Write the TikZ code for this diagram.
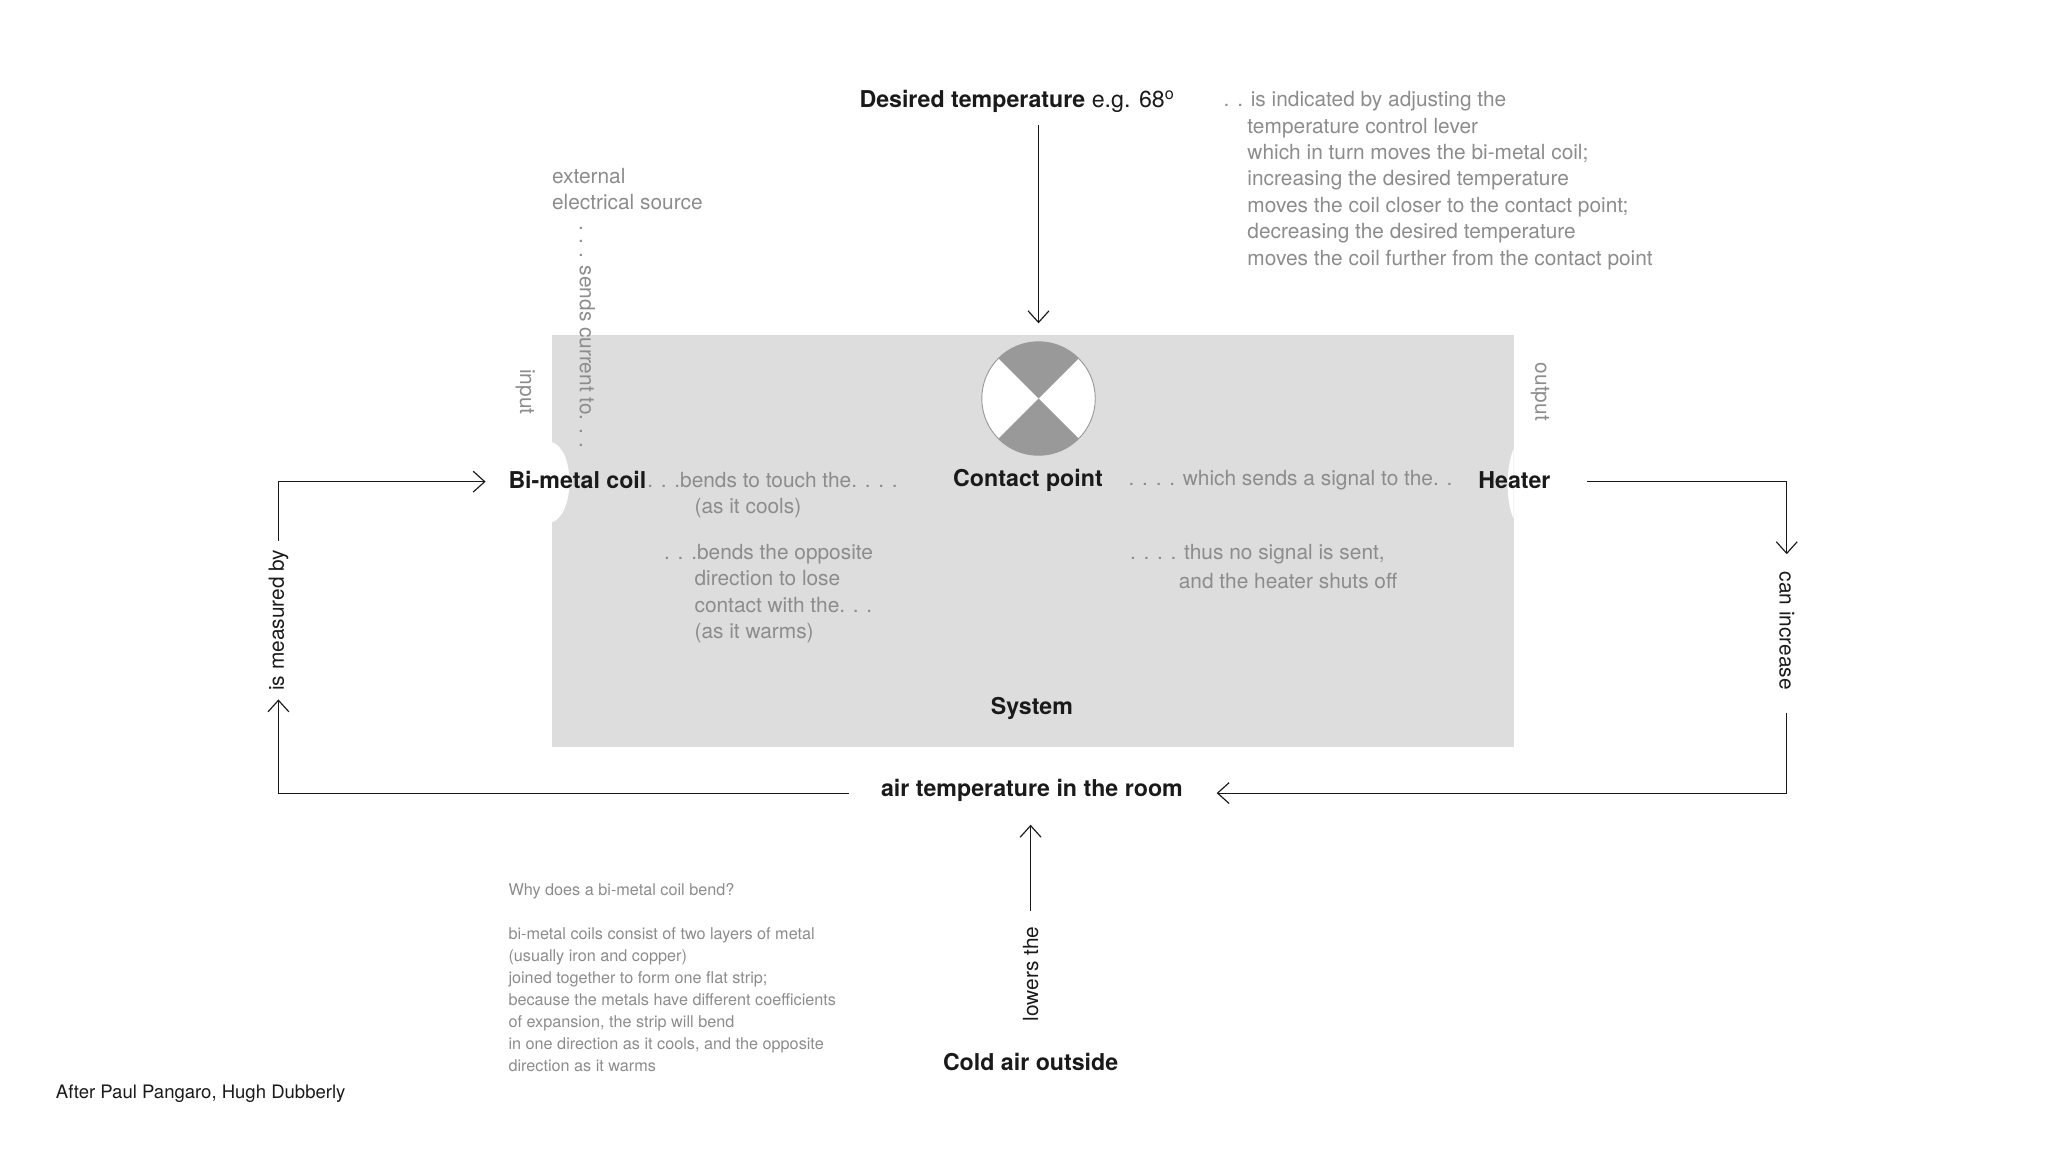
\documentclass[tikz,border=0pt]{standalone}
\usepackage{fontspec}
\setmainfont{TeX Gyre Heros}
\usetikzlibrary{arrows.meta}
\definecolor{tg}{HTML}{8C8C8C}
\definecolor{tb}{HTML}{1A1A1A}
\definecolor{sysg}{HTML}{DDDDDE}
\definecolor{qg}{HTML}{999999}
\tikzset{
  bold/.style={font=\fontsize{10}{12}\selectfont\bfseries, text=tb, inner sep=0pt},
  grey/.style={font=\fontsize{9}{11.4}\selectfont, text=tg, inner sep=0pt, align=left},
  blk/.style={font=\fontsize{9}{11.4}\selectfont, text=tb, inner sep=0pt},
  small/.style={font=\fontsize{7}{9.5}\selectfont, text=tg, inner sep=0pt, align=left},
  conn/.style={draw=tb, line width=0.5pt},
  arr/.style={conn, -{Straight Barb[length=5pt,width=9pt]}}
}
\begin{document}
\begin{tikzpicture}[x=0.02cm,y=-0.02cm]
\useasboundingbox (0,0) rectangle (1552,873);
% system box
\fill[sysg] (418,254) rectangle (1147,566);
\fill[white] (418,335) .. controls (436,340) and (436,390) .. (418,396) -- cycle;
\fill[white] (1147,340) .. controls (1141,355) and (1141,380) .. (1147,393) -- cycle;
% contact circle
\fill[white] (787,302) circle (43);
\fill[qg] (787,302) -- ++(-30.4,-30.4) arc (225:315:43) -- cycle;
\fill[qg] (787,302) -- ++(30.4,30.4) arc (45:135:43) -- cycle;
\draw[qg, line width=0.4pt] (787,302) circle (43);
\node (sys) [bold] at (782,537) {System};
% top
\node (des) [bold, anchor=west] at (651,77) {Desired temperature \mdseries e.g. 68\textsuperscript{o}};
\node (d1) [grey, anchor=west] at (927,77) {. . is indicated by adjusting the};
\node (d2) [grey, anchor=north west] at (945,89) {temperature control lever\\which in turn moves the bi-metal coil;\\increasing the desired temperature\\moves the coil closer to the contact point;\\decreasing the desired temperature\\moves the coil further from the contact point};
\coordinate (dtop) at (787,95);
\coordinate (dbot) at (787,245);
\draw[arr] (dtop) -- (dbot);
\node (ext) [grey, anchor=north west] at (418,127) {external\\electrical source};
\node (inp) [grey, rotate=-90] at (398,297) {input};
\node (sends) [grey, rotate=-90] at (445,255) {. . . sends current to. . .};
\node (outp) [grey, rotate=-90] at (1167,297) {output};
% row
\node (bmc) [bold, anchor=west] at (385,364) {Bi-metal coil};
\node (b1) [grey, anchor=west] at (bmc.east) {. . .bends to touch the. . . .};
\node (b2) [grey, anchor=west] at (526,385) {(as it cools)};
\node (cp) [bold, anchor=west] at (722,364) {Contact point};
\node (c1) [grey, anchor=west] at (855,364) {. . . . which sends a signal to the. .};
\node (ht) [bold, anchor=west] at (1120,364) {Heater};
\node (o1) [grey, anchor=west] at (503,420) {. . .bends the opposite};
\node (o2) [grey, anchor=north west] at (526,432) {direction to lose\\contact with the. . .\\(as it warms)};
\node (n1) [grey, anchor=west] at (856,420) {. . . . thus no signal is sent,};
\node (n2) [grey, anchor=west] at (893,440) {and the heater shuts off};
% loop
\node (air) [bold] at (782,599) {air temperature in the room};
\node (ci) [blk, rotate=-90] at (1354,478) {can increase};
\node (im) [blk, rotate=90] at (211,470) {is measured by};
\coordinate (hr) at (1203,365);
\coordinate (ri1) at (1354,365);
\coordinate (ri2) at (1354,420);
\coordinate (ri3) at (1354,540);
\coordinate (ri4) at (1354,601);
\coordinate (ae) at (922,601);
\coordinate (aw) at (643,601);
\coordinate (le1) at (211,601);
\coordinate (le2) at (211,530);
\coordinate (le3) at (211,410);
\coordinate (le4) at (211,365);
\coordinate (bin) at (368,365);
\draw[arr] (hr) -- (ri1) -- (ri2);
\draw[arr] (ri3) -- (ri4) -- (ae);
\draw[arr] (aw) -- (le1) -- (le2);
\draw[arr] (le3) -- (le4) -- (bin);
% cold air
\node (cold) [bold] at (781,805) {Cold air outside};
\node (lt) [blk, rotate=90] at (781,738) {lowers the};
\coordinate (cu) at (781,690);
\coordinate (ct) at (781,625);
\draw[arr] (cu) -- (ct);
% note
\node (note) [small, anchor=north west] at (385,669) {Why does a bi-metal coil bend?\\[9.5pt]bi-metal coils consist of two layers of metal\\(usually iron and copper)\\joined together to form one flat strip;\\because the metals have different coefficients\\of expansion, the strip will bend\\in one direction as it cools, and the opposite\\direction as it warms};
\node (cred) [font=\fontsize{8}{10}\selectfont, text=tb, inner sep=0pt, anchor=west] at (42,829) {After Paul Pangaro, Hugh Dubberly};
\end{tikzpicture}
\end{document}
